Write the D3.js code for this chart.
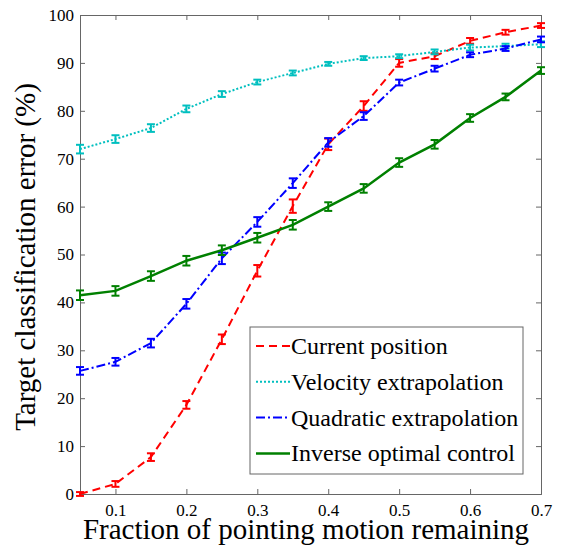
<!DOCTYPE html>
<html>
<head>
<meta charset="utf-8">
<script src="https://cdn.jsdelivr.net/npm/d3@7"></script>
<style>
    body { margin: 0; background: #fff; }
    text { font-family: "Liberation Serif", "Times New Roman", serif; fill: #000; }
</style>
</head>
<body>
<div id="chart"></div>
<script>
var fractions = [0.05, 0.1, 0.15, 0.2, 0.25, 0.3, 0.35, 0.4, 0.45, 0.5, 0.55, 0.6, 0.65, 0.7];

var currentPosition = [0, 2.1, 7.7, 18.6, 32.3, 46.6, 60.1, 73.0, 81.0, 90.0, 91.4, 94.6, 96.4, 97.8];
var currentPositionErr = [0.4, 0.6, 0.8, 0.8, 1.0, 1.2, 1.4, 1.2, 1.0, 0.8, 0.6, 0.6, 0.5, 0.5];

var velocityExtrap = [72.0, 74.1, 76.4, 80.4, 83.5, 86.0, 87.9, 89.8, 91.0, 91.4, 92.3, 93.2, 93.5, 93.9];
var velocityExtrapErr = [0.9, 0.8, 0.8, 0.7, 0.6, 0.5, 0.5, 0.4, 0.4, 0.4, 0.5, 0.6, 0.5, 0.6];

var quadraticExtrap = [25.7, 27.6, 31.5, 39.7, 49.2, 56.8, 64.9, 73.4, 78.9, 85.9, 88.8, 91.7, 93.0, 94.9];
var quadraticExtrapErr = [0.8, 0.8, 0.9, 1.0, 1.2, 1.0, 1.0, 0.9, 0.8, 0.6, 0.6, 0.5, 0.5, 0.6];

var inverseOptimal = [41.5, 42.4, 45.5, 48.7, 50.9, 53.5, 56.2, 60.0, 63.8, 69.2, 73.0, 78.5, 82.9, 88.4];
var inverseOptimalErr = [1.0, 1.0, 1.0, 1.0, 1.0, 1.0, 1.0, 0.9, 0.9, 0.9, 0.9, 0.8, 0.7, 0.7];

var xTicks = [0.1, 0.2, 0.3, 0.4, 0.5, 0.6, 0.7];
var yTicks = [0, 10, 20, 30, 40, 50, 60, 70, 80, 90, 100];

var seriesNames = ["Current position", "Velocity extrapolation", "Quadratic extrapolation", "Inverse optimal control"];

var series = [
    { name: seriesNames[0], values: currentPosition, err: currentPositionErr, color: "#ff0000", dash: "8,5", width: 2 },
    { name: seriesNames[1], values: velocityExtrap, err: velocityExtrapErr, color: "#00bfbf", dash: "2,2", width: 2 },
    { name: seriesNames[2], values: quadraticExtrap, err: quadraticExtrapErr, color: "#0000ff", dash: "9,3,2,3", width: 2 },
    { name: seriesNames[3], values: inverseOptimal, err: inverseOptimalErr, color: "#008000", dash: null, width: 2.5 }
];

var width = 566, height = 548;
// note: "top" clashes with window.top, so prefix these
var plotLeft = 80, plotRight = 541, plotTop = 15, plotBottom = 494;

var svg = d3.select("#chart")
    .append("svg")
    .attr("width", width)
    .attr("height", height);

var x = d3.scaleLinear().domain([0.05, 0.7]).range([plotLeft, plotRight]);
var y = d3.scaleLinear().domain([0, 100]).range([plotBottom, plotTop]);

// axes box, ticks point inwards like matlab
var axisColor = "#666";

function styleAxis(g) {
    g.select(".domain").attr("stroke", axisColor);
    g.selectAll(".tick line").attr("stroke", axisColor);
    g.selectAll(".tick text").attr("font-size", 17).attr("font-family", "Liberation Serif");
}

svg.append("g")
    .attr("transform", "translate(0," + plotBottom + ")")
    .call(d3.axisBottom(x).tickValues(xTicks).tickSize(-5).tickPadding(10).tickFormat(d3.format(".1f")))
    .call(styleAxis);

svg.append("g")
    .attr("transform", "translate(0," + plotTop + ")")
    .call(d3.axisTop(x).tickValues(xTicks).tickSize(-5).tickFormat(""))
    .call(styleAxis);

svg.append("g")
    .attr("transform", "translate(" + plotLeft + ",0)")
    .call(d3.axisLeft(y).tickValues(yTicks).tickSize(-5).tickPadding(6))
    .call(styleAxis);

svg.append("g")
    .attr("transform", "translate(" + plotRight + ",0)")
    .call(d3.axisRight(y).tickValues(yTicks).tickSize(-5).tickFormat(""))
    .call(styleAxis);

var line = d3.line()
    .x(function (d) { return x(d[0]); })
    .y(function (d) { return y(d[1]); });

var plot = svg.append("g");

series.forEach(function (s) {
    var pts = fractions.map(function (f, i) { return [f, s.values[i], s.err[i]]; });

    plot.append("path")
        .attr("d", line(pts))
        .attr("fill", "none")
        .attr("stroke", s.color)
        .attr("stroke-width", s.width)
        .attr("stroke-dasharray", s.dash);

    // error bars with caps
    var bars = plot.append("g").selectAll("g")
        .data(pts)
        .enter().append("g")
        .attr("stroke", s.color)
        .attr("stroke-width", 2);

    bars.append("line")
        .attr("x1", function (d) { return x(d[0]); })
        .attr("x2", function (d) { return x(d[0]); })
        .attr("y1", function (d) { return y(d[1] - d[2]); })
        .attr("y2", function (d) { return y(d[1] + d[2]); });

    bars.append("line")
        .attr("x1", function (d) { return x(d[0]) - 4; })
        .attr("x2", function (d) { return x(d[0]) + 4; })
        .attr("y1", function (d) { return y(d[1] - d[2]); })
        .attr("y2", function (d) { return y(d[1] - d[2]); });

    bars.append("line")
        .attr("x1", function (d) { return x(d[0]) - 4; })
        .attr("x2", function (d) { return x(d[0]) + 4; })
        .attr("y1", function (d) { return y(d[1] + d[2]); })
        .attr("y2", function (d) { return y(d[1] + d[2]); });
});

// legend
var legend = svg.append("g").attr("transform", "translate(250,327)");

legend.append("rect")
    .attr("width", 273)
    .attr("height", 147)
    .attr("fill", "#fff")
    .attr("stroke", axisColor)
    .attr("stroke-width", 1);

var items = legend.selectAll("g.item")
    .data(series)
    .enter().append("g")
    .attr("class", "item")
    .attr("transform", function (d, i) { return "translate(0," + (19 + i * 35.8) + ")"; });

items.append("line")
    .attr("x1", 6)
    .attr("x2", 40)
    .attr("stroke", function (d) { return d.color; })
    .attr("stroke-width", function (d) { return d.width; })
    .attr("stroke-dasharray", function (d) { return d.dash; });

items.append("text")
    .attr("x", 41)
    .attr("y", 8)
    .attr("font-size", 24)
    .text(function (d) { return d.name; });

// axis titles
svg.append("text")
    .attr("x", 306)
    .attr("y", 539)
    .attr("text-anchor", "middle")
    .attr("font-size", 29)
    .text("Fraction of pointing motion remaining");

svg.append("text")
    .attr("transform", "translate(35,257) rotate(-90)")
    .attr("text-anchor", "middle")
    .attr("font-size", 29)
    .text("Target classification error (%)");
</script>
</body>
</html>
